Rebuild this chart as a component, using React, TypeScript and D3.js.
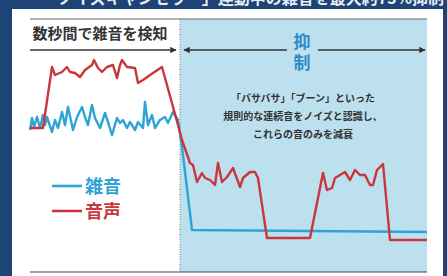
import React from 'react';
import * as d3 from 'd3';

// time (arbitrary units) / level pairs
const voiceT = [0, 13, 22, 25, 32, 37, 40, 45, 50, 55, 62, 64, 68, 72, 77, 83, 87, 90, 92, 97, 105, 108, 113, 123, 132, 148, 152, 160, 163, 167, 172, 175, 180, 185, 188, 192, 197, 203, 210, 213, 220, 225, 228, 237, 280, 293, 297, 302, 305, 310, 315, 320, 325, 330, 335, 340, 343, 347, 353, 360, 397];
const voiceV = [132, 132, 193, 185, 188, 193, 188, 187, 183, 190, 195, 200, 192, 188, 193, 195, 182, 195, 200, 193, 192, 177, 180, 187, 193, 135, 120, 97, 95, 78, 87, 82, 80, 75, 97, 78, 83, 92, 73, 82, 88, 88, 82, 22, 22, 87, 70, 72, 82, 85, 88, 80, 90, 85, 85, 75, 75, 90, 96, 20, 20];

const noiseT = [0, 2, 4, 7, 10, 13, 15, 17, 22, 25, 28, 32, 35, 38, 43, 47, 52, 55, 58, 62, 65, 70, 75, 78, 82, 87, 90, 93, 97, 100, 105, 108, 113, 115, 118, 122, 125, 130, 135, 138, 143, 148, 152, 162, 397];
const noiseV = [130, 142, 133, 143, 132, 145, 135, 143, 128, 140, 132, 148, 135, 153, 130, 143, 153, 143, 135, 155, 142, 132, 147, 138, 125, 142, 137, 140, 132, 138, 130, 138, 132, 158, 135, 145, 132, 140, 143, 137, 148, 140, 113, 30, 28];

const legendLabels = ['雑音', '音声'];
const descLines = ['「バサバサ」「ブーン」といった', '規則的な連続音をノイズと認識し、', 'これらの音のみを減衰'];

const BLUE = '#2ea3d5';
const RED = '#c9363b';

export default function App() {
  const W = 447;
  const H = 276;
  const x = d3.scaleLinear().domain([0, 397]).range([30, 427]);
  const y = d3.scaleLinear().domain([0, 250]).range([260, 10]);
  const split = x(150);

  const line = d3.line<[number, number]>().x(d => x(d[0])).y(d => y(d[1]));
  const voice = line(voiceT.map((t, i) => [t, voiceV[i]]));
  const noise = line(noiseT.map((t, i) => [t, noiseV[i]]));

  const font = '"Noto Sans CJK JP", "Noto Sans", sans-serif';

  return (
    <svg width={W} height={H} style={{ position: 'absolute', left: 0, top: 0 }} fontFamily={font}>
      <defs>
        <marker id="ah" viewBox="0 0 10 10" refX="9" refY="5" markerWidth="4" markerHeight="4" orient="auto-start-reverse">
          <path d="M0,0 L10,5 L0,10 z" fill="#333" />
        </marker>
      </defs>
      <rect width={W} height={H} fill="#1e4476" />
      {/* headline, cut off by the photo's top edge */}
      <text x={444} y={4} textAnchor="end" fontSize={16} fontWeight="bold" fill="#e8eef5">
        ノイズキャンセラー」連動中の雑音を最大約75%抑制
      </text>
      <rect x={12} y={9} width={431} height={H - 9} fill="#ffffff" />
      <rect x={split} y={19} width={x(397) - split} height={253} fill="#bde0ee" />
      <line x1={30} x2={x(397)} y1={19} y2={19} stroke="#666" strokeWidth={1.2} />
      <line x1={30} x2={x(397)} y1={272} y2={272} stroke="#444" strokeWidth={1.2} />
      <line x1={split} x2={split} y1={19} y2={272} stroke="#777" strokeWidth={1} strokeDasharray="1,1.5" />

      <text x={100} y={39} textAnchor="middle" fontSize={15} fontWeight="bold" fill="#333">数秒間で雑音を検知</text>
      <line x1={30} x2={176} y1={50} y2={50} stroke="#333" strokeWidth={1.6} markerEnd="url(#ah)" />
      <line x1={184} x2={287} y1={50} y2={50} stroke="#333" strokeWidth={1.6} markerStart="url(#ah)" />
      <line x1={318} x2={425} y1={50} y2={50} stroke="#333" strokeWidth={1.6} markerEnd="url(#ah)" />
      <text x={302} y={48} textAnchor="middle" fontSize={17} fontWeight="bold" fill="#2a8cc8">抑</text>
      <text x={302} y={69} textAnchor="middle" fontSize={17} fontWeight="bold" fill="#2a8cc8">制</text>
      {descLines.map((s, i) => (
        <text key={i} x={303} y={102 + i * 18} textAnchor="middle" fontSize={10} fontWeight="bold" fill="#333">{s}</text>
      ))}

      <path d={noise ?? ''} fill="none" stroke={BLUE} strokeWidth={2.4} strokeLinejoin="round" />
      <path d={voice ?? ''} fill="none" stroke={RED} strokeWidth={2.4} strokeLinejoin="round" />

      {legendLabels.map((s, i) => (
        <g key={s} transform={`translate(52,${186 + i * 25})`}>
          <line x1={0} x2={30} y1={0} y2={0} stroke={i === 0 ? BLUE : RED} strokeWidth={2.6} />
          <text x={33} y={7} fontSize={18} fontWeight="bold" fill={i === 0 ? BLUE : RED}>{s}</text>
        </g>
      ))}
    </svg>
  );
}
